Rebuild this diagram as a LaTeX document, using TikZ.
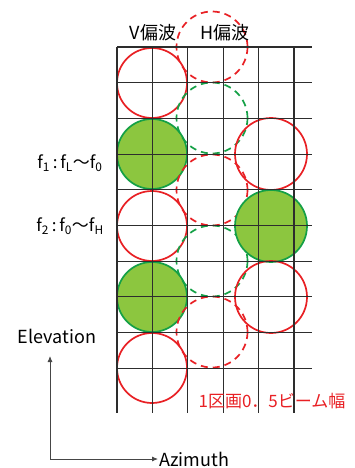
\documentclass[tikz,border=0pt]{standalone}
\usepackage{fontspec}
\setmainfont{Noto Sans CJK JP}
\usetikzlibrary{positioning}
\usetikzlibrary{arrows.meta}
\definecolor{hazRojo}{RGB}{232,32,36}
\definecolor{hazVerde}{RGB}{20,160,70}
\definecolor{hazVerdeRelleno}{RGB}{140,198,63}
\definecolor{rejillaGris}{RGB}{45,45,45}
\definecolor{ejeGris}{RGB}{70,70,70}
\tikzset{
  hazv/.style={
    circle, draw=hazRojo, line width=1.7pt, minimum size=70pt, inner sep=0pt
  },
  hazvv/.style={
    circle, draw=hazVerde, fill=hazVerdeRelleno, line width=1.7pt,
    minimum size=70pt, inner sep=0pt
  },
  hazh/.style={
    circle, draw=hazRojo, line width=1.7pt, minimum size=71pt, inner sep=0pt,
    dash pattern=on 7pt off 5pt
  },
  hazhv/.style={
    circle, draw=hazVerde, line width=1.7pt, minimum size=71pt, inner sep=0pt,
    dash pattern=on 7pt off 5pt
  },
  rejilla/.style={line width=1.1pt, draw=rejillaGris},
  texto/.style={font=\fontsize{18}{21}\selectfont, inner sep=1pt},
  eje/.style={{Latex[length=6pt,width=5pt]}-{Latex[length=6pt,width=5pt]}, line width=0.8pt, draw=ejeGris}
}
\begin{document}
\begin{tikzpicture}[x=1pt, y=-1pt]
  \useasboundingbox (0,0) rectangle (354,468);

  % V polarisation beams
  \node[hazv]  (v1) at (152,83)  {};
  \node[hazvv] (v2) at (152,154) {};
  \node[hazv]  (v3) at (152,226) {};
  \node[hazvv] (v4) at (152,297) {};
  \node[hazv]  (v5) at (152,368) {};

  % H polarisation beams
  \node[hazh]  (h1) at (212,47)  {};
  \node[hazhv] (h2) at (212,118) {};
  \node[hazh]  (h3) at (212,190) {};
  \node[hazhv] (h4) at (212,261) {};
  \node[hazh]  (h5) at (212,332) {};

  % right column
  \node[hazv, minimum size=72pt]  (d1) at (271,154) {};
  \node[hazvv, minimum size=72pt] (d2) at (271,226) {};
  \node[hazv, minimum size=72pt]  (d3) at (271,297) {};

  % grid
  \foreach \i in {0,...,5}
    \draw[rejilla] ({117+35.4*\i},47) -- ({117+35.4*\i},413);
  \foreach \j in {0,...,9}
    \draw[rejilla] (117,{47+35.7*\j}) -- (312,{47+35.7*\j});

  \node[texto] (tV) at (153,33) {V偏波};
  \node[texto] (tH) at (225,33) {H偏波};
  \node[texto, font=\fontsize{17}{20}\selectfont] (f1) at (70,163) {f\textsubscript{1}\,:\,f\textsubscript{L}～f\textsubscript{0}};
  \node[texto, font=\fontsize{17}{20}\selectfont] (f2) at (70,226) {f\textsubscript{2}\,:\,f\textsubscript{0}～f\textsubscript{H}};
  \node[texto, font=\fontsize{17}{20}\selectfont, text=hazRojo] (escala) at (272,401) {1区画0．5ビーム幅};

  \node[texto] (elev) at (57,336) {Elevation};
  \node[texto, anchor=west] (azim) at (158,459) {Azimuth};
  \coordinate (elevTip) at (50,356);
  \draw[eje] (elevTip) |- (azim);
\end{tikzpicture}
\end{document}
